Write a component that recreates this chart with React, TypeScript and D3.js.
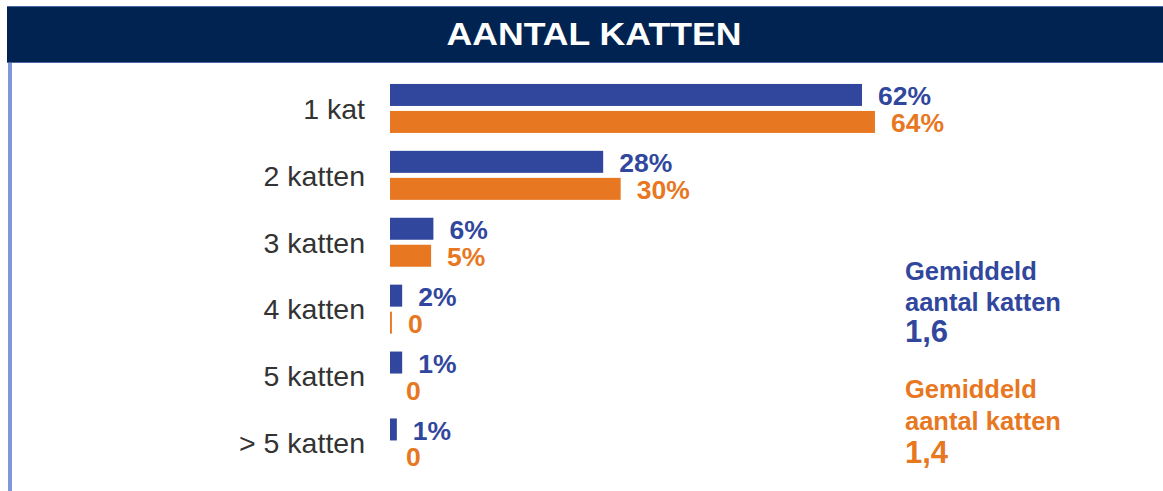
import React from 'react';
import * as d3 from 'd3';

const W = 1163;
const H = 491;

const categories = ['1 kat', '2 katten', '3 katten', '4 katten', '5 katten', '> 5 katten'];
// bar lengths (percent), labels as printed
const blueValues = [62, 28, 5.7, 1.6, 1.6, 0.9];
const blueLabels = ['62%', '28%', '6%', '2%', '1%', '1%'];
const orangeValues = [63.7, 30.3, 5.4, 0.25, 0, 0];
const orangeLabels = ['64%', '30%', '5%', '0', '0', '0'];

const blueAvgLines = ['Gemiddeld', 'aantal katten'];
const blueAvg = '1,6';
const orangeAvgLines = ['Gemiddeld', 'aantal katten'];
const orangeAvg = '1,4';

const BLUE = '#31479d';
const ORANGE = '#e87722';
const NAVY = '#002352';
const FONT = 'Liberation Sans, Arial, Helvetica, sans-serif';

export default function App() {
  const x = d3.scaleLinear().domain([0, 100]).range([390, 1151.3]);
  const y = d3.scalePoint<string>().domain(categories).range([75, 476.4]).padding(0.5);
  const barH = 22;

  return (
    <svg width={W} height={H} style={{ position: 'absolute', left: 0, top: 0, background: '#fff' }}
      fontFamily={FONT}>
      {/* header */}
      <rect x={7} y={6} width={W - 7} height={57} fill={NAVY} />
      <line x1={7} x2={W} y1={6.5} y2={6.5} stroke="#4a67a6" strokeWidth={1} />
      <line x1={7} x2={W} y1={62.5} y2={62.5} stroke="#4a67a6" strokeWidth={1} />
      <text x={594} y={45} textAnchor="middle" fill="#fff" fontWeight="bold" fontSize={31}
        textLength={295} lengthAdjust="spacingAndGlyphs">AANTAL KATTEN</text>
      {/* left border */}
      <rect x={8} y={63} width={4} height={H - 63} fill="#8096d9" />

      {categories.map((c, i) => {
        const cy = y(c) as number;
        return (
          <g key={c}>
            <text x={365} y={cy} dy="0.36em" textAnchor="end" fill="#333" fontSize={28.5}>{c}</text>
            <rect x={x(0)} y={cy - 24.5} width={x(blueValues[i]) - x(0)} height={barH} fill={BLUE} />
            <rect x={x(0)} y={cy + 2.5} width={x(orangeValues[i]) - x(0)} height={barH} fill={ORANGE} />
            <text x={x(blueValues[i]) + 16} y={cy - 3} fill={BLUE} fontWeight="bold" fontSize={26.5}>
              {blueLabels[i]}
            </text>
            <text x={x(orangeValues[i]) + 16} y={cy + 23.5} fill={ORANGE} fontWeight="bold" fontSize={26.5}>
              {orangeLabels[i]}
            </text>
          </g>
        );
      })}

      {/* averages */}
      <g fill={BLUE} fontWeight="bold">
        {blueAvgLines.map((t, i) => (
          <text key={i} x={905} y={280 + i * 31} fontSize={25.5}>{t}</text>
        ))}
        <text x={905} y={342} fontSize={31}>{blueAvg}</text>
      </g>
      <g fill={ORANGE} fontWeight="bold">
        {orangeAvgLines.map((t, i) => (
          <text key={i} x={905} y={398 + i * 32} fontSize={25.5}>{t}</text>
        ))}
        <text x={905} y={463} fontSize={31}>{orangeAvg}</text>
      </g>
    </svg>
  );
}
